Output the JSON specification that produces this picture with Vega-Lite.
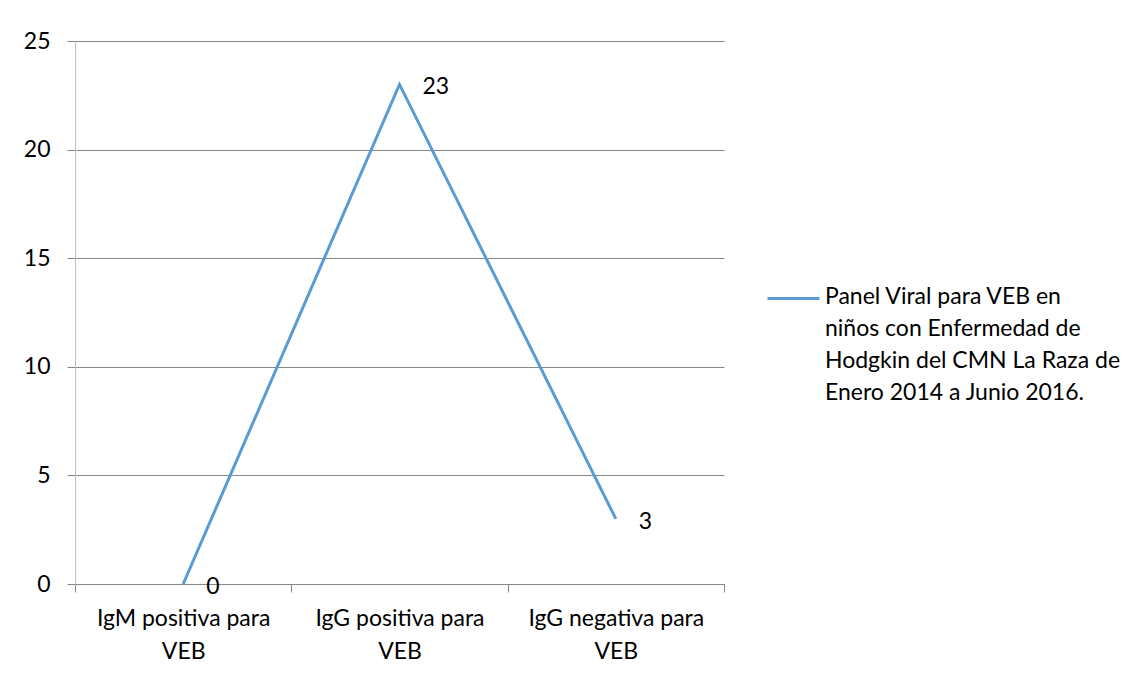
{
  "$schema": "https://vega.github.io/schema/vega-lite/v6.json",
  "autosize": "none",
  "width": 649,
  "height": 543,
  "padding": {"left": 75, "top": 41, "right": 420, "bottom": 93},
  "background": "white",
  "config": {
    "font": "Lato",
    "view": {"stroke": null}
  },
  "data": {
    "values": [
      {"categoria": "IgM positiva para VEB", "valor": 0, "serie": "Panel Viral para VEB en niños con Enfermedad de Hodgkin del CMN La Raza de Enero 2014 a Junio 2016."},
      {"categoria": "IgG positiva para VEB", "valor": 23, "serie": "Panel Viral para VEB en niños con Enfermedad de Hodgkin del CMN La Raza de Enero 2014 a Junio 2016."},
      {"categoria": "IgG negativa para VEB", "valor": 3, "serie": "Panel Viral para VEB en niños con Enfermedad de Hodgkin del CMN La Raza de Enero 2014 a Junio 2016."}
    ]
  },
  "encoding": {
    "x": {
      "field": "categoria",
      "type": "nominal",
      "sort": null,
      "bandPosition": 0.5,
      "scale": {"type": "band", "paddingInner": 0, "paddingOuter": 0},
      "axis": {
        "title": null,
        "labelAngle": 0,
        "labelFont": "Lato",
        "labelFontSize": 23,
        "labelColor": "#000000",
        "labelExpr": "datum.label ? [replace(datum.label, ' VEB', ''), 'VEB'] : ''",
        "labelLineHeight": 33,
        "labelPadding": 15,
        "tickBand": "extent",
        "tickSize": 8,
        "tickColor": "#868686",
        "domainColor": "#868686",
        "grid": false
      }
    },
    "y": {
      "field": "valor",
      "type": "quantitative",
      "scale": {"domain": [0, 25], "nice": false},
      "axis": {
        "title": null,
        "values": [0, 5, 10, 15, 20, 25],
        "labelFont": "Lato",
        "labelFontSize": 23,
        "labelColor": "#000000",
        "labelPadding": 17,
        "tickSize": 8,
        "tickColor": "#868686",
        "gridColor": "#868686",
        "domainColor": "#BFBFBF"
      }
    }
  },
  "layer": [
    {
      "mark": {"type": "line", "color": "#5B9BD5", "strokeWidth": 3},
      "encoding": {
        "color": {
          "field": "serie",
          "type": "nominal",
          "scale": {"range": ["#5B9BD5"]},
          "legend": {
            "title": null,
            "orient": "none",
            "legendX": 691,
            "legendY": 230,
            "symbolType": "stroke",
            "symbolSize": 2700,
            "symbolStrokeWidth": 3,
            "labelFont": "Lato",
            "labelFontSize": 23,
            "labelColor": "#000000",
            "labelLimit": 400,
            "labelOffset": 4,
            "labelBaseline": "top",
            "labelExpr": "['Panel Viral para VEB en', 'niños con Enfermedad de', 'Hodgkin del CMN La Raza de', 'Enero 2014 a Junio 2016.']",
            "encode": {"labels": {"update": {"lineHeight": {"value": 32}, "dy": {"value": -13}}}}
          }
        }
      }
    },
    {
      "mark": {"type": "text", "align": "left", "baseline": "middle", "dx": 23, "dy": 3, "fontSize": 23, "font": "Lato", "color": "#000000"},
      "encoding": {"text": {"field": "valor", "type": "quantitative"}}
    }
  ]
}
